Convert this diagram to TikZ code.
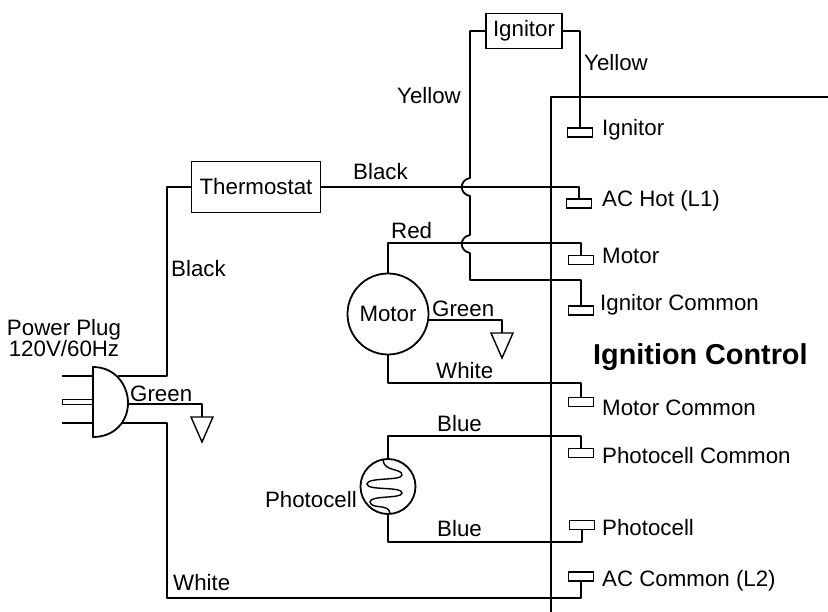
\documentclass[tikz,border=0pt]{standalone}
\usepackage{fontspec}
\setmainfont{Liberation Sans}
\usetikzlibrary{arrows.meta}
\tikzset{
  wire/.style={line width=1.8pt, line join=round},
  lbl/.style={inner sep=0pt, font=\fontsize{22.3}{21}\selectfont},
  termbox/.style={draw, line width=1.8pt, minimum width=25pt, minimum height=9pt, inner sep=0pt},
  partbox/.style={draw, line width=1.8pt, inner sep=0pt, font=\fontsize{22.3}{21}\selectfont}
}

\begin{document}
\begin{tikzpicture}[x=1pt, y=-1pt]
\useasboundingbox (0,0) rectangle (828,612);

% boxes and round parts
\node[partbox, minimum width=76pt, minimum height=35pt] (ignitor) at (524,31) {Ignitor};
\node[partbox, minimum width=129pt, minimum height=51pt] (thermostat) at (256,187) {Thermostat};
\node[partbox, circle, minimum size=81pt] (motor) at (388,314) {Motor};
\node[partbox, circle, minimum size=55pt] (cell) at (388,486.5) {};

% terminals
\foreach \name/\x/\y in {tigna/580/132.5, thot/579/203.5, tmot/581/260, tignc/581/310.5,
  tmotc/581/402, tcellc/581/453, tcell/582/525, tacc/581/576.5}
{
    \node[termbox] (\name) at (\x,\y) {};
}

% control outline
\coordinate (ctlcorner) at (551,97);
\draw[wire] (551,612) -- (ctlcorner) -- (828,97);

% plug
\draw[wire] (93,367) .. controls (115,367) and (128,385) .. (128,403)
  .. controls (128,421) and (115,437) .. (93,437) -- cycle;
\draw[wire] (62,376) -- (93,376);
\draw[line width=1pt] (62,400) rectangle (93,405);
\draw[wire] (62,423) -- (93,423);
\coordinate (plugtop) at (118,376);
\coordinate (plugmid) at (128,404);
\coordinate (plugbot) at (121,423);

% grounds
\coordinate (gndplug) at (202,417);
\coordinate (gndmotor) at (502,333);
\foreach \g in {gndplug, gndmotor}
{
    \draw[line width=1.4pt] ([xshift=-11pt]\g) -- ([xshift=11pt]\g) -- ([yshift=-25pt]\g) -- cycle;
};

% wires
\draw[wire] (plugtop) -| (167,187) -- (thermostat.west);
\draw[wire] (plugmid) -| (gndplug);
\draw[wire] (plugbot) -| (167,598) -| (tacc.south);
\draw[wire] (thermostat.east) -| (thot.north);
\draw[wire] (motor.north) -- (388,243) -| (tmot.north);
\draw[wire] (motor.south) -- (388,383) -| (tmotc.north);
\draw[wire] (428,320) -| (gndmotor);
\draw[wire] (cell.north) -- (388,436) -| (tcellc.north);
\draw[wire] (cell.south) -- (388,542) -| (tcell.south);
\draw[wire] (ignitor.east) -| (tigna.north);
\draw[wire] (ignitor.west) -| (470,178) .. controls (459,180) and (459,194) .. (470,196)
  -- (470,235) .. controls (459,237) and (459,251) .. (470,253)
  -- (470,280) -| (tignc.north);

% photocell element
\draw[line width=1.4pt] (383,460) .. controls (384,472) and (402,468) .. (402,475)
  .. controls (402,481) and (367,477) .. (367,484)
  .. controls (367,491) and (402,486) .. (402,493)
  .. controls (402,499) and (370,495) .. (370,502)
  .. controls (372,510) and (388,503) .. (390,513);

% labels
\node[lbl, anchor=west] (lyela) at (397,96) {Yellow};
\node[lbl, anchor=west] (lyelb) at (584,63) {Yellow};
\node[lbl, anchor=west] (lblka) at (353,172) {Black};
\node[lbl, anchor=west] (lblkb) at (171,269) {Black};
\node[lbl, anchor=west] (lred) at (391,231) {Red};
\node[lbl, anchor=west] (lgrna) at (432,309) {Green};
\node[lbl, anchor=west] (lgrnb) at (130,394) {Green};
\node[lbl, anchor=west] (lwhta) at (436,371) {White};
\node[lbl, anchor=west] (lwhtb) at (173,583) {White};
\node[lbl, anchor=west] (lblua) at (437,424) {Blue};
\node[lbl, anchor=west] (lblub) at (437,529) {Blue};
\node[lbl, anchor=east] (lcell) at (357,500) {Photocell};
\node[lbl, align=center] (lplug) at (64,338) {Power Plug\\120V/60Hz};
\node[lbl, anchor=west, font=\fontsize{28.8}{30}\selectfont\bfseries] (lctl) at (593,357) {Ignition Control};

\foreach \name/\x/\y/\txt in {na/602/130/Ignitor, nb/602/201/AC Hot (L1), nc/602/256/Motor,
  nd/600/305/Ignitor Common, ne/602/408/Motor Common, nf/602/456/Photocell Common,
  ng/602/528/Photocell, nh/602/581/AC Common (L2)}
{
    \node[lbl, anchor=west] (\name) at (\x,\y) {\txt};
}
\end{tikzpicture}
\end{document}
